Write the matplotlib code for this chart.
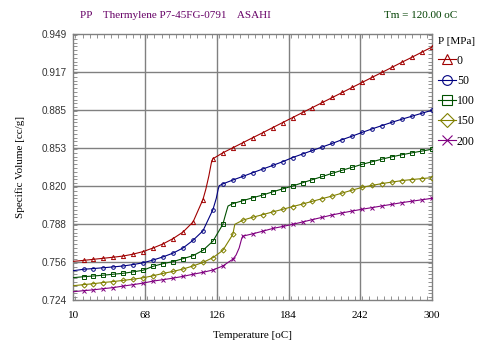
import matplotlib
matplotlib.use("Agg")
import matplotlib.pyplot as plt
from matplotlib.lines import Line2D
from matplotlib.ticker import FixedLocator, MultipleLocator

# ---------------- data ----------------
T_GRID = [10.0, 18.1, 26.1, 34.2, 42.2, 50.3, 58.3, 66.4, 74.4, 82.5, 90.6,
          98.6, 106.7, 114.7, 122.8, 130.8, 138.9, 146.9, 155.0, 163.1, 171.1,
          179.2, 187.2, 195.3, 203.3, 211.4, 219.4, 227.5, 235.6, 243.6, 251.7,
          259.7, 267.8, 275.8, 283.9, 291.9, 300.0]

PRESSURES = ["0", "50", "100", "150", "200"]

V_P0 = [0.7567, 0.7575, 0.7584, 0.7593, 0.7602, 0.7612, 0.7628, 0.7650, 0.7680,
        0.7715, 0.7760, 0.7815, 0.7900, 0.8090, 0.8435, 0.8485, 0.8528, 0.8570,
        0.8613, 0.8655, 0.8698, 0.8741, 0.8783, 0.8826, 0.8868, 0.8911, 0.8953,
        0.8996, 0.9039, 0.9081, 0.9124, 0.9166, 0.9209, 0.9252, 0.9294, 0.9337,
        0.9380]
V_P50 = [0.7488, 0.7500, 0.7506, 0.7513, 0.7520, 0.7528, 0.7540, 0.7555, 0.7578,
         0.7605, 0.7637, 0.7680, 0.7745, 0.7825, 0.8005, 0.8222, 0.8255, 0.8285,
         0.8317, 0.8348, 0.8378, 0.8410, 0.8445, 0.8475, 0.8505, 0.8535, 0.8565,
         0.8597, 0.8627, 0.8658, 0.8688, 0.8716, 0.8744, 0.8770, 0.8795, 0.8820,
         0.8845]
V_P100 = [0.7429, 0.7437, 0.7443, 0.7450, 0.7458, 0.7466, 0.7478, 0.7492, 0.7525,
          0.7548, 0.7565, 0.7590, 0.7615, 0.7660, 0.7738, 0.7880, 0.8055, 0.8080,
          0.8105, 0.8128, 0.8155, 0.8180, 0.8204, 0.8232, 0.8258, 0.8285, 0.8312,
          0.8338, 0.8363, 0.8388, 0.8410, 0.8432, 0.8452, 0.8469, 0.8485, 0.8500,
          0.8515]
V_P150 = [0.7361, 0.7370, 0.7378, 0.7388, 0.7396, 0.7406, 0.7416, 0.7428, 0.7445,
          0.7465, 0.7482, 0.7502, 0.7528, 0.7558, 0.7598, 0.7660, 0.7795, 0.7915,
          0.7940, 0.7962, 0.7985, 0.8007, 0.8030, 0.8052, 0.8075, 0.8098, 0.8120,
          0.8145, 0.8170, 0.8193, 0.8210, 0.8225, 0.8238, 0.8250, 0.8259, 0.8267,
          0.8275]
V_P200 = [0.7310, 0.7319, 0.7326, 0.7336, 0.7345, 0.7358, 0.7370, 0.7383, 0.7400,
          0.7412, 0.7425, 0.7440, 0.7458, 0.7474, 0.7494, 0.7528, 0.7585, 0.7780,
          0.7800, 0.7822, 0.7845, 0.7862, 0.7880, 0.7900, 0.7920, 0.7940, 0.7960,
          0.7977, 0.7993, 0.8008, 0.8022, 0.8036, 0.8050, 0.8064, 0.8076, 0.8088,
          0.8100]

# extra (unmarked) points along the steep transition part of each curve
KINK_T = {
    "0": [117.0, 119.5, 121.5],
    "50": [125.5, 127.0, 127.9],
    "100": [132.5, 134.0, 135.0],
    "150": [139.8, 140.5],
    "200": [141.5, 144.0, 145.8],
}
KINK_V = {
    "0": [0.8175, 0.8290, 0.8400],
    "50": [0.8100, 0.8175, 0.8207],
    "100": [0.7945, 0.8000, 0.8035],
    "150": [0.7845, 0.7880],
    "200": [0.7620, 0.7680, 0.7750],
}

X_TICKS = [10, 68, 126, 184, 242, 300]
Y_TICK_LABELS = ["0.724", "0.756", "0.788", "0.820", "0.853", "0.885", "0.917", "0.949"]

TITLE_LEFT = "PP    Thermylene P7-45FG-0791    ASAHI"
TITLE_RIGHT = "Tm = 120.00 oC"

# ---------------- style ----------------
SERIES_V = [V_P0, V_P50, V_P100, V_P150, V_P200]
COLORS = ["#A00000", "#000080", "#005000", "#808000", "#800080"]
MARKERS = ["^", "o", "s", "D", "x"]
MSIZES = [3.0, 2.6, 2.9, 2.6, 3.0]

fig = plt.figure(figsize=(4.89, 3.54), dpi=100)
ax = fig.add_axes([73.5 / 489, 1 - 300 / 354, (432 - 73.5) / 489, (300 - 34) / 354])

y_lo, y_hi = 0.724, 0.949
ax.set_xlim(10, 300)
ax.set_ylim(y_lo, y_hi)

# grid
for xt in X_TICKS[1:-1]:
    ax.axvline(xt, color="#808080", lw=1.0, zorder=1)
for k in range(1, 7):
    ax.axhline(y_lo + (y_hi - y_lo) * k / 7, color="#808080", lw=1.0, zorder=1)

handles = []
for p, v, c, m, ms in zip(PRESSURES, SERIES_V, COLORS, MARKERS, MSIZES):
    pts = sorted(list(zip(T_GRID, v)) + list(zip(KINK_T[p], KINK_V[p])))
    lt = [a for a, b in pts]
    lv = [b for a, b in pts]
    ax.plot(lt, lv, color=c, lw=0.8, zorder=3)
    ax.plot(T_GRID[1:], v[1:], linestyle="none", marker=m, ms=ms,
            mfc="none", mec=c, mew=0.7, zorder=4)
    handles.append(Line2D([0], [0], color=c, lw=0.8, marker=m, ms=7,
                          mfc="none", mec=c, mew=0.8, label=p))

# ticks
ax.xaxis.set_major_locator(FixedLocator(X_TICKS))
ax.xaxis.set_minor_locator(MultipleLocator(5.8))
ax.yaxis.set_major_locator(FixedLocator([y_lo + (y_hi - y_lo) * k / 7 for k in range(8)]))
ax.yaxis.set_minor_locator(MultipleLocator((y_hi - y_lo) / 70))
ax.set_xticklabels([str(t) for t in X_TICKS], family="Liberation Serif", fontsize=8)
ax.set_yticklabels(Y_TICK_LABELS, family="Liberation Sans", fontsize=7.2, color="#333333")
ax.tick_params(which="both", direction="in", top=True, right=True, color="#808080")
ax.tick_params(which="major", length=4, width=0.8, pad=5)
ax.tick_params(which="minor", length=3, width=0.6)
ax.tick_params(axis="x", which="major", pad=8)
for s in ax.spines.values():
    s.set_color("#808080")
    s.set_linewidth(1.0)

ax.set_xlabel("Temperature [oC]", family="Liberation Serif", fontsize=8, labelpad=8)
ax.set_ylabel("Specific Volume [cc/g]", family="Liberation Serif", fontsize=8, labelpad=12)

fig.text(80 / 489, 1 - 15 / 354, TITLE_LEFT, family="Liberation Serif", fontsize=8,
         color="#660066", va="center", ha="left")
fig.text(457 / 489, 1 - 15 / 354, TITLE_RIGHT, family="Liberation Serif", fontsize=8,
         color="#004000", va="center", ha="right")

leg = ax.legend(handles=handles, loc="upper left", bbox_to_anchor=(1.0, 1.01),
                frameon=False, title="P [MPa]", handlelength=1.5, handletextpad=0.1,
                labelspacing=0.7, borderaxespad=0.1,
                prop={"family": "Liberation Serif", "size": 8.5})
leg.get_title().set_fontfamily("Liberation Serif")
leg.get_title().set_fontsize(8)
leg._legend_box.align = "left"

fig.savefig("out.png", dpi=100)
